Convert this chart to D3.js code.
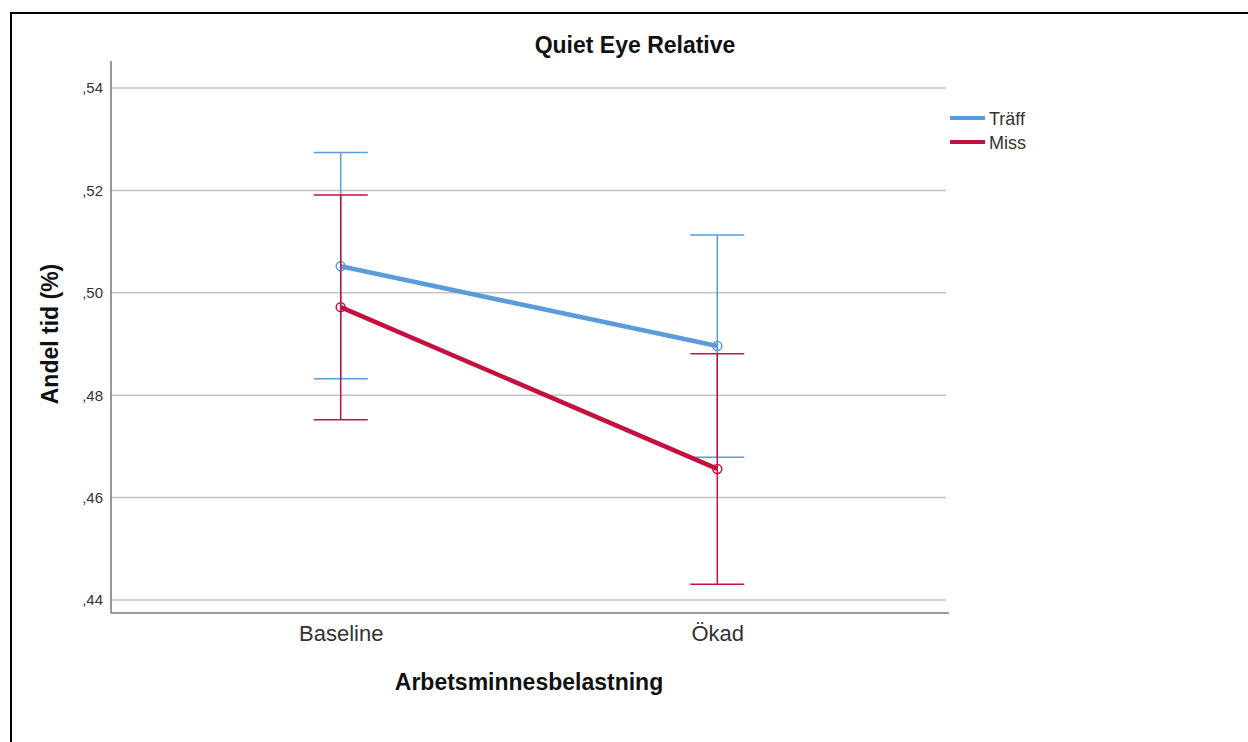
<!DOCTYPE html>
<html>
<head>
<meta charset="utf-8">
<script src="https://cdn.jsdelivr.net/npm/d3@7"></script>
<style>
  body { margin: 0; background: #fff; }
  text { font-family: "Liberation Sans", Arial, sans-serif; }
</style>
</head>
<body>
<svg id="chart" width="1248" height="742"></svg>
<script>
// data
const categories = ["Baseline", "Ökad"];
const seriesNames = ["Träff", "Miss"];
const traffMean = [0.5052, 0.4896];
const traffLow = [0.4832, 0.4679];
const traffHigh = [0.5274, 0.5113];
const missMean = [0.4972, 0.4656];
const missLow = [0.4752, 0.4431];
const missHigh = [0.5191, 0.4881];
const yTicks = [0.44, 0.46, 0.48, 0.50, 0.52, 0.54];

const colors = ["#5b9bd9", "#c4103f"];

const svg = d3.select("#chart");
const margin = { left: 111, right: 301, top: 61, bottom: 130 };
const width = +svg.attr("width");
const height = +svg.attr("height");

// outer frame (runs off the right and bottom)
svg.append("rect")
  .attr("x", 11).attr("y", 13)
  .attr("width", 1300).attr("height", 800)
  .attr("fill", "none")
  .attr("stroke", "#000")
  .attr("stroke-width", 2);

const x = d3.scalePoint()
  .domain(categories)
  .range([margin.left, width - margin.right])
  .padding(0.61);

const y = d3.scaleLinear()
  .domain([0.44, 0.54])
  .range([600, 88]);

const plotBottom = height - margin.bottom + 1;

// grid lines
svg.append("g")
  .selectAll("line")
  .data(yTicks)
  .join("line")
  .attr("x1", margin.left)
  .attr("x2", width - margin.right - 1)
  .attr("y1", (d) => y(d))
  .attr("y2", (d) => y(d))
  .attr("stroke", "#c4c4c4")
  .attr("stroke-width", 1.5);

// y axis
const yAxis = svg.append("g")
  .attr("transform", `translate(${margin.left},0)`)
  .call(d3.axisLeft(y).tickValues(yTicks).tickSize(0).tickPadding(8)
    .tickFormat((d) => "," + d3.format(".2f")(d).split(".")[1]));
yAxis.select(".domain").remove();
yAxis.selectAll("text").attr("font-size", 15).attr("fill", "#333");

// axis lines
svg.append("line")
  .attr("x1", margin.left).attr("x2", margin.left)
  .attr("y1", margin.top).attr("y2", plotBottom)
  .attr("stroke", "#777").attr("stroke-width", 1.5);
svg.append("line")
  .attr("x1", margin.left).attr("x2", width - margin.right + 2)
  .attr("y1", plotBottom).attr("y2", plotBottom)
  .attr("stroke", "#777").attr("stroke-width", 1.5);

// x axis labels
const xAxis = svg.append("g")
  .attr("transform", `translate(0,${plotBottom})`)
  .call(d3.axisBottom(x).tickSize(0).tickPadding(12));
xAxis.select(".domain").remove();
xAxis.selectAll("text").attr("font-size", 22).attr("fill", "#333");

const series = [
  { name: seriesNames[0], mean: traffMean, low: traffLow, high: traffHigh, color: colors[0] },
  { name: seriesNames[1], mean: missMean, low: missLow, high: missHigh, color: colors[1] }
];

const capHalf = 27;

series.forEach((s) => {
  const pts = categories.map((c, i) => ({ c, mean: s.mean[i], low: s.low[i], high: s.high[i] }));
  const g = svg.append("g");

  // error bars
  g.selectAll(".whisker")
    .data(pts)
    .join("line")
    .attr("x1", (d) => x(d.c)).attr("x2", (d) => x(d.c))
    .attr("y1", (d) => y(d.low)).attr("y2", (d) => y(d.high))
    .attr("stroke", s.color).attr("stroke-width", 1.5);
  ["low", "high"].forEach((k) => {
    g.selectAll(".cap-" + k)
      .data(pts)
      .join("line")
      .attr("x1", (d) => x(d.c) - capHalf).attr("x2", (d) => x(d.c) + capHalf)
      .attr("y1", (d) => y(d[k])).attr("y2", (d) => y(d[k]))
      .attr("stroke", s.color).attr("stroke-width", 1.5);
  });

  // mean line
  g.append("path")
    .datum(pts)
    .attr("d", d3.line().x((d) => x(d.c)).y((d) => y(d.mean)))
    .attr("fill", "none")
    .attr("stroke", s.color)
    .attr("stroke-width", 4.5);

  g.selectAll("circle")
    .data(pts)
    .join("circle")
    .attr("cx", (d) => x(d.c)).attr("cy", (d) => y(d.mean))
    .attr("r", 4.5)
    .attr("fill", "none")
    .attr("stroke", s.color)
    .attr("stroke-width", 1.5);
});

// legend
const legend = svg.append("g").attr("transform", "translate(950,118)");
series.forEach((s, i) => {
  legend.append("line")
    .attr("x1", 0).attr("x2", 35)
    .attr("y1", i * 24).attr("y2", i * 24)
    .attr("stroke", s.color).attr("stroke-width", 4);
  legend.append("text")
    .attr("x", 39).attr("y", i * 24 + 7)
    .attr("font-size", 18).attr("fill", "#333")
    .text(s.name);
});

// titles
svg.append("text")
  .attr("x", 635).attr("y", 53)
  .attr("text-anchor", "middle")
  .attr("font-size", 23).attr("font-weight", "bold").attr("fill", "#111")
  .text("Quiet Eye Relative");

svg.append("text")
  .attr("x", 529).attr("y", 690)
  .attr("text-anchor", "middle")
  .attr("font-size", 23).attr("font-weight", "bold").attr("fill", "#111")
  .text("Arbetsminnesbelastning");

svg.append("text")
  .attr("transform", "translate(58,334) rotate(-90)")
  .attr("text-anchor", "middle")
  .attr("font-size", 23).attr("font-weight", "bold").attr("fill", "#111")
  .text("Andel tid (%)");
</script>
</body>
</html>
